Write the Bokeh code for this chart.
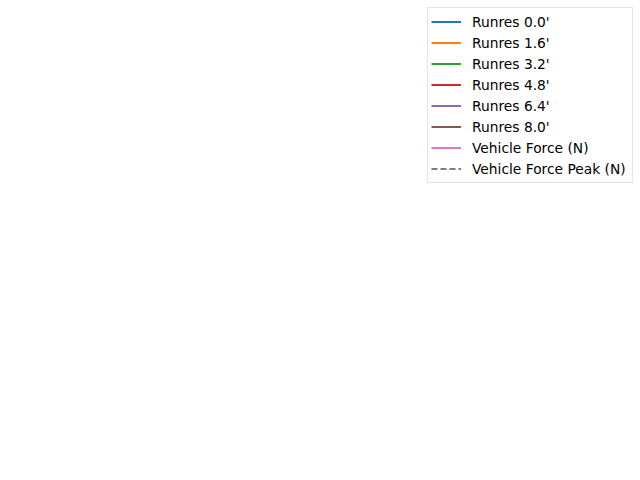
from bokeh.plotting import figure
from bokeh.models import Legend, LegendItem
from bokeh.embed import file_html
from bokeh.resources import INLINE

nan = float("nan")

labels = ["Runres 0.0'", "Runres 1.6'", "Runres 3.2'", "Runres 4.8'",
          "Runres 6.4'", "Runres 8.0'", "Vehicle Force (N)", "Vehicle Force Peak (N)"]
colors = ["#1f77b4", "#ff7f0e", "#2ca02c", "#d62728",
          "#9467bd", "#8c564b", "#e377c2", "#7f7f7f"]
dashes = ["solid"] * 7 + ["6 3"]
# No data points are visible in the reference; each series holds only a missing value.
xs = [[nan] for _ in labels]
ys = [[nan] for _ in labels]

p = figure(width=640, height=480, output_backend="svg", toolbar_location=None,
           min_border=0, x_range=(0, 1), y_range=(0, 1))
p.axis.visible = False
p.grid.visible = False
p.outline_line_color = None

items = []
for lab, c, d, x, y in zip(labels, colors, dashes, xs, ys):
    r = p.line(x, y, line_color=c, line_width=2, line_dash=d)
    items.append(LegendItem(label=lab, renderers=[r]))

legend = Legend(items=items, location="top_right", margin=7,
                padding=3, spacing=0, label_height=21, glyph_height=21,
                glyph_width=30, label_standoff=11, label_width=157,
                label_text_font="DejaVu Sans", label_text_font_size="13.8px",
                label_text_color="#000000",
                border_line_color="#cccccc", border_line_width=1,
                background_fill_color="white", background_fill_alpha=0.8)
p.add_layout(legend, "center")

open("out.html", "w").write(file_html(p, INLINE))
